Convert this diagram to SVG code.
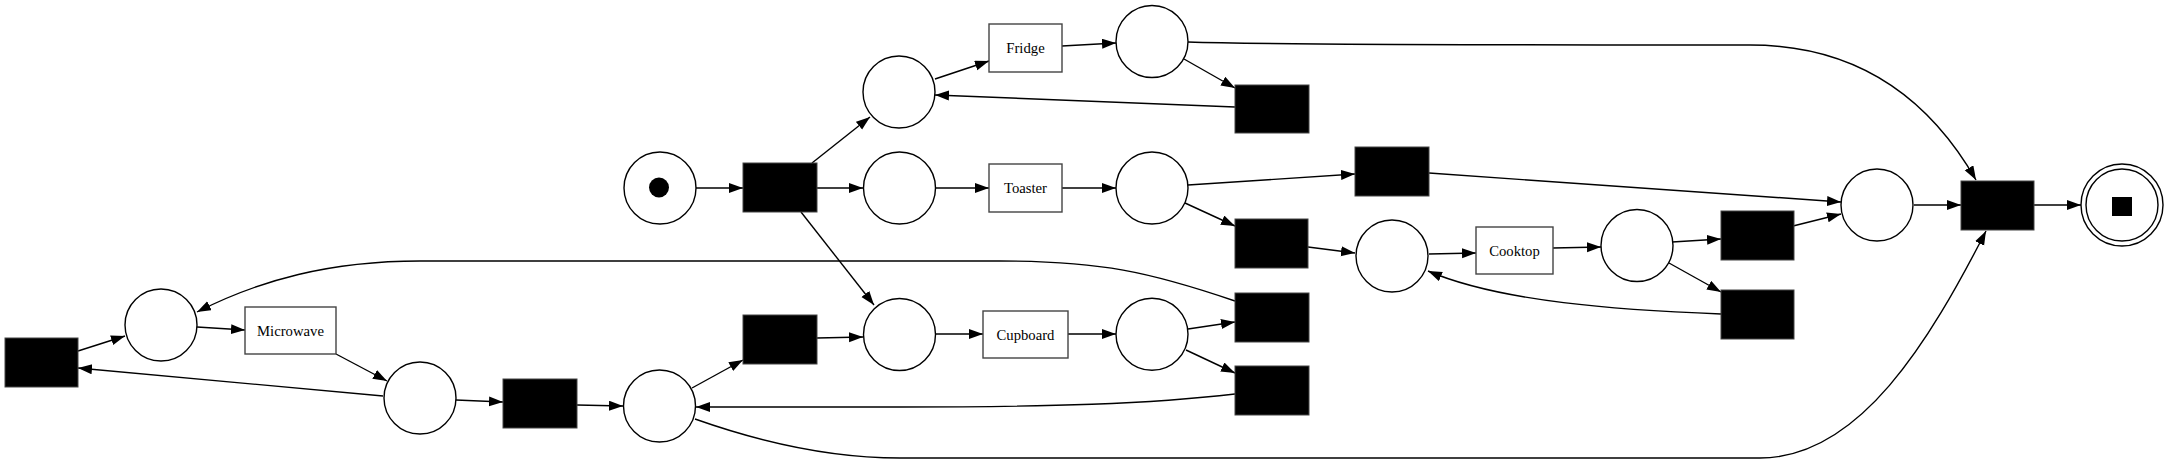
<svg xmlns="http://www.w3.org/2000/svg" width="2169" height="464" viewBox="0 0 2169 464">
<defs>
<marker id="ah" markerUnits="userSpaceOnUse" markerWidth="16" markerHeight="12" refX="14" refY="5" orient="auto">
<path d="M0,0 L14,5 L0,10 z" fill="#000"/>
</marker>
<style>
.pl{fill:#fff;stroke:#000;stroke-width:1.4}
.tr{fill:#000;stroke:#444;stroke-width:1}
.lt{fill:#fff;stroke:#444;stroke-width:1.4}
.lb{font-family:"Liberation Serif","Times New Roman",serif;font-size:14.7px;fill:#000;text-anchor:middle}
.e{fill:none;stroke:#000;stroke-width:1.4;marker-end:url(#ah)}
.e0{fill:none;stroke:#000;stroke-width:1.4}
</style>
</defs>
<rect width="2169" height="464" fill="#fff"/>
<g id="connectors">
<path class="e" d="M696,188 L743,188"/>
<path class="e" d="M817,188 L863,188"/>
<path class="e" d="M812,163 L870,117"/>
<path class="e" d="M801,212 L874,305"/>
<path class="e" d="M935,79 L989,61"/>
<path class="e" d="M1062,46 L1116,43"/>
<path class="e" d="M1184,59 L1235,88"/>
<path class="e" d="M1235,107 L935,95"/>
<path class="e" d="M1188,42 C1260,44.5 1420,45 1750,45 C1860,45 1930,100 1976,180"/>
<path class="e" d="M936,188 L989,188"/>
<path class="e" d="M1062,188 L1116,188"/>
<path class="e" d="M1188,185 L1355,174"/>
<path class="e" d="M1429,173 L1841,202"/>
<path class="e" d="M1185,203 L1235,226"/>
<path class="e" d="M1308,247 L1355,253"/>
<path class="e" d="M1429,254 L1476,253"/>
<path class="e" d="M1553,248 L1601,247"/>
<path class="e" d="M1672,242 L1721,239"/>
<path class="e" d="M1669,263 L1721,292"/>
<path class="e" d="M1721,314 C1620,310 1500,302 1428,271"/>
<path class="e" d="M1793,226 L1841,214"/>
<path class="e" d="M1914,205 L1961,205"/>
<path class="e" d="M2034,205 L2081,205"/>
<path class="e" d="M936,334 L983,334"/>
<path class="e" d="M1068,334 L1116,334"/>
<path class="e" d="M1188,329 L1235,322"/>
<path class="e" d="M1186,350 L1235,373"/>
<path class="e" d="M1235,394 C1150,404 1050,407 900,407 L696,407"/>
<path class="e" d="M1235,301 C1150,272 1100,261 1000,261 L420,261 C330,261 260,280 197,312"/>
<path class="e" d="M197,327 L245,330"/>
<path class="e" d="M336,354 L387,381"/>
<path class="e" d="M383,396 L78,368"/>
<path class="e" d="M78,351 L125,336"/>
<path class="e" d="M456,400 L503,402"/>
<path class="e" d="M577,405 L623,406"/>
<path class="e" d="M692,388 L743,360"/>
<path class="e" d="M817,338 L863,337"/>
<path class="e" d="M695,419 C760,442 830,458 900,458 L1760,458 C1860,458 1930,340 1986,231"/>
</g>
<g id="p_start"><circle class="pl" cx="660" cy="188" r="36"/><circle cx="659" cy="187.5" r="10" fill="#000"/></g>
<g id="t_start"><rect class="tr" x="743" y="163" width="74" height="49"/></g>
<g id="p_fridge_in"><circle class="pl" cx="899" cy="92" r="36"/></g>
<g id="p_toaster_in"><circle class="pl" cx="899.5" cy="188" r="36"/></g>
<g id="p_cb_in"><circle class="pl" cx="899.5" cy="334.5" r="36"/></g>
<g id="t_fridge"><rect class="lt" x="989" y="24" width="73" height="48"/><text class="lb" x="1025.5" y="53">Fridge</text></g>
<g id="t_toaster"><rect class="lt" x="989" y="164" width="73" height="48"/><text class="lb" x="1025.5" y="193">Toaster</text></g>
<g id="t_cupboard"><rect class="lt" x="983" y="311" width="85" height="47"/><text class="lb" x="1025.5" y="339.5">Cupboard</text></g>
<g id="p_fridge_out"><circle class="pl" cx="1152" cy="41.5" r="36"/></g>
<g id="p_toaster_out"><circle class="pl" cx="1152" cy="188" r="36"/></g>
<g id="p_cb_out"><circle class="pl" cx="1152" cy="334.3" r="36"/></g>
<g id="t_fridge_back"><rect class="tr" x="1235" y="85" width="74" height="48"/></g>
<g id="t_toaster_skip"><rect class="tr" x="1355" y="147" width="74" height="49"/></g>
<g id="t_toaster_cook"><rect class="tr" x="1235" y="219" width="73" height="49"/></g>
<g id="t_cb_loop"><rect class="tr" x="1235" y="293" width="74" height="49"/></g>
<g id="t_cb_back"><rect class="tr" x="1235" y="366" width="74" height="49"/></g>
<g id="p_cook_in"><circle class="pl" cx="1392" cy="256" r="36"/></g>
<g id="t_cooktop"><rect class="lt" x="1476" y="227" width="77" height="47"/><text class="lb" x="1514.5" y="255.5">Cooktop</text></g>
<g id="p_cook_out"><circle class="pl" cx="1637" cy="245.5" r="36"/></g>
<g id="t_cook_up"><rect class="tr" x="1721" y="211" width="73" height="49"/></g>
<g id="t_cook_back"><rect class="tr" x="1721" y="290" width="73" height="49"/></g>
<g id="p_end_pre"><circle class="pl" cx="1877" cy="205" r="36"/></g>
<g id="t_final"><rect class="tr" x="1961" y="181" width="73" height="49"/></g>
<g id="p_end"><circle class="pl" cx="2122" cy="205" r="41"/><circle class="pl" cx="2122" cy="205" r="36"/><rect x="2112" y="197" width="20" height="19" fill="#000"/></g>
<g id="p_mw_in"><circle class="pl" cx="161" cy="325" r="36"/></g>
<g id="t_left"><rect class="tr" x="5" y="338" width="73" height="49"/></g>
<g id="t_microwave"><rect class="lt" x="245" y="307" width="91" height="47"/><text class="lb" x="290.5" y="335.5">Microwave</text></g>
<g id="p_mw_out"><circle class="pl" cx="420" cy="398" r="36"/></g>
<g id="t_mw_out"><rect class="tr" x="503" y="379" width="74" height="49"/></g>
<g id="p_left2"><circle class="pl" cx="659.5" cy="406" r="36"/></g>
<g id="t_cb_pre"><rect class="tr" x="743" y="315" width="74" height="49"/></g>
</svg>
